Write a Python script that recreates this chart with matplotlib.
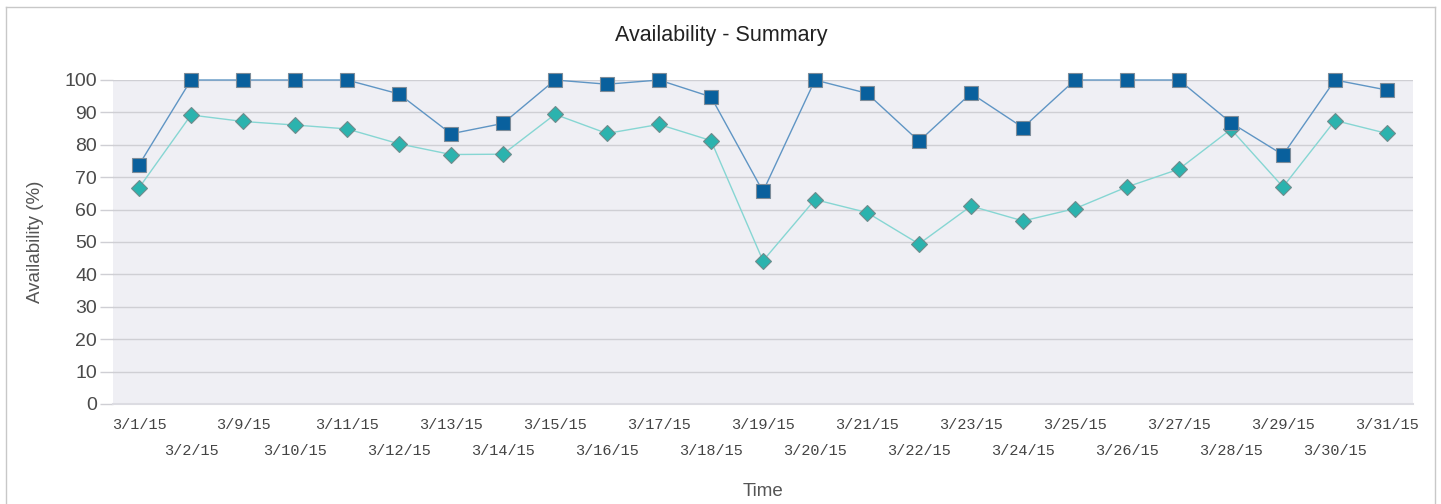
import matplotlib
matplotlib.use("Agg")
import matplotlib.pyplot as plt
from matplotlib.lines import Line2D

categories = ["3/1/15", "3/2/15", "3/9/15", "3/10/15", "3/11/15", "3/12/15", "3/13/15",
              "3/14/15", "3/15/15", "3/16/15", "3/17/15", "3/18/15", "3/19/15", "3/20/15",
              "3/21/15", "3/22/15", "3/23/15", "3/24/15", "3/25/15", "3/26/15", "3/27/15",
              "3/28/15", "3/29/15", "3/30/15", "3/31/15"]

series_a = [73.8, 100, 100, 100, 100, 95.7, 83.4, 86.6, 100, 98.7, 100, 94.8, 65.6,
            100, 95.9, 81.1, 95.9, 85.3, 100, 100, 100, 86.8, 76.9, 100, 96.9]
series_b = [66.7, 89.2, 87.2, 86.1, 84.9, 80.3, 77.0, 77.1, 89.4, 83.5, 86.3, 81.3, 44.2,
            63.1, 59.1, 49.4, 61.1, 56.5, 60.3, 67.0, 72.5, 84.8, 67.0, 87.5, 83.5]

y_ticks = list(range(0, 101, 10))

W, H = 1441, 504
fig = plt.figure(figsize=(W / 100, H / 100), dpi=100)
ax = fig.add_axes([113 / W, 1 - 404 / H, 1300 / W, 324 / H])
ax.set_facecolor("#efeff4")

x = list(range(len(categories)))
ax.plot(x, series_b, color="#86d6d3", lw=1.0, marker="D", ms=7.8,
        mfc="#2bb3ae", mec="#6f8c8c", mew=0.8, zorder=3, clip_on=False)
ax.plot(x, series_a, color="#5f95c4", lw=1.0, marker="s", ms=10,
        mfc="#09609d", mec="#7d8c99", mew=0.8, zorder=4, clip_on=False)

ax.set_xlim(-0.5, len(categories) - 0.5)
ax.set_ylim(0, 100)
ax.set_yticks(y_ticks)
ax.set_yticklabels([str(v) for v in y_ticks], fontsize=14, color="#4a4a4a",
                   family="Liberation Sans")
ax.yaxis.grid(True, color="#cfcfd4", lw=1.0)
ax.set_axisbelow(True)
for s in ax.spines.values():
    s.set_visible(False)
ax.tick_params(axis="y", length=9.4, color="#cfcfd4", width=1.0, pad=2)

even = [i for i in x if i % 2 == 0]
odd = [i for i in x if i % 2 == 1]
ax.set_xticks(even)
ax.set_xticklabels([categories[i] for i in even], fontsize=11, color="#444444",
                   family="Liberation Mono")
ax.set_xticks(odd, minor=True)
ax.set_xticklabels([categories[i] for i in odd], minor=True, fontsize=11,
                   color="#444444", family="Liberation Mono")
ax.tick_params(axis="x", which="major", length=0, pad=10)
ax.tick_params(axis="x", which="minor", length=0, pad=29)

ax.add_line(Line2D([-0.5, len(categories) - 0.5], [0, 0], color="#dcdce2", lw=1.5,
                   zorder=2, clip_on=False))

fig.text(721 / W, 1 - 36 / H, "Availability - Summary", ha="center", va="center",
         fontsize=15.5, color="#222222", family="Liberation Sans")
fig.text(36 / W, 1 - 242 / H, "Availability (%)", ha="center", va="center",
         rotation=90, fontsize=13.5, color="#555555", family="Liberation Sans")
fig.text(763 / W, 1 - 492 / H, "Time", ha="center", va="center",
         fontsize=13.5, color="#555555", family="Liberation Sans")

# figure frame (left, top, right)
fx0, fx1, fy = 5.5 / W, 1434.5 / W, 1 - 6.5 / H
for xs, ys in [([fx0, fx0], [0, fy]), ([fx0, fx1], [fy, fy]), ([fx1, fx1], [fy, 0])]:
    fig.add_artist(Line2D(xs, ys, color="#c8c8c8", lw=1.0, transform=fig.transFigure))

fig.savefig("out.png", dpi=100, facecolor="white")
